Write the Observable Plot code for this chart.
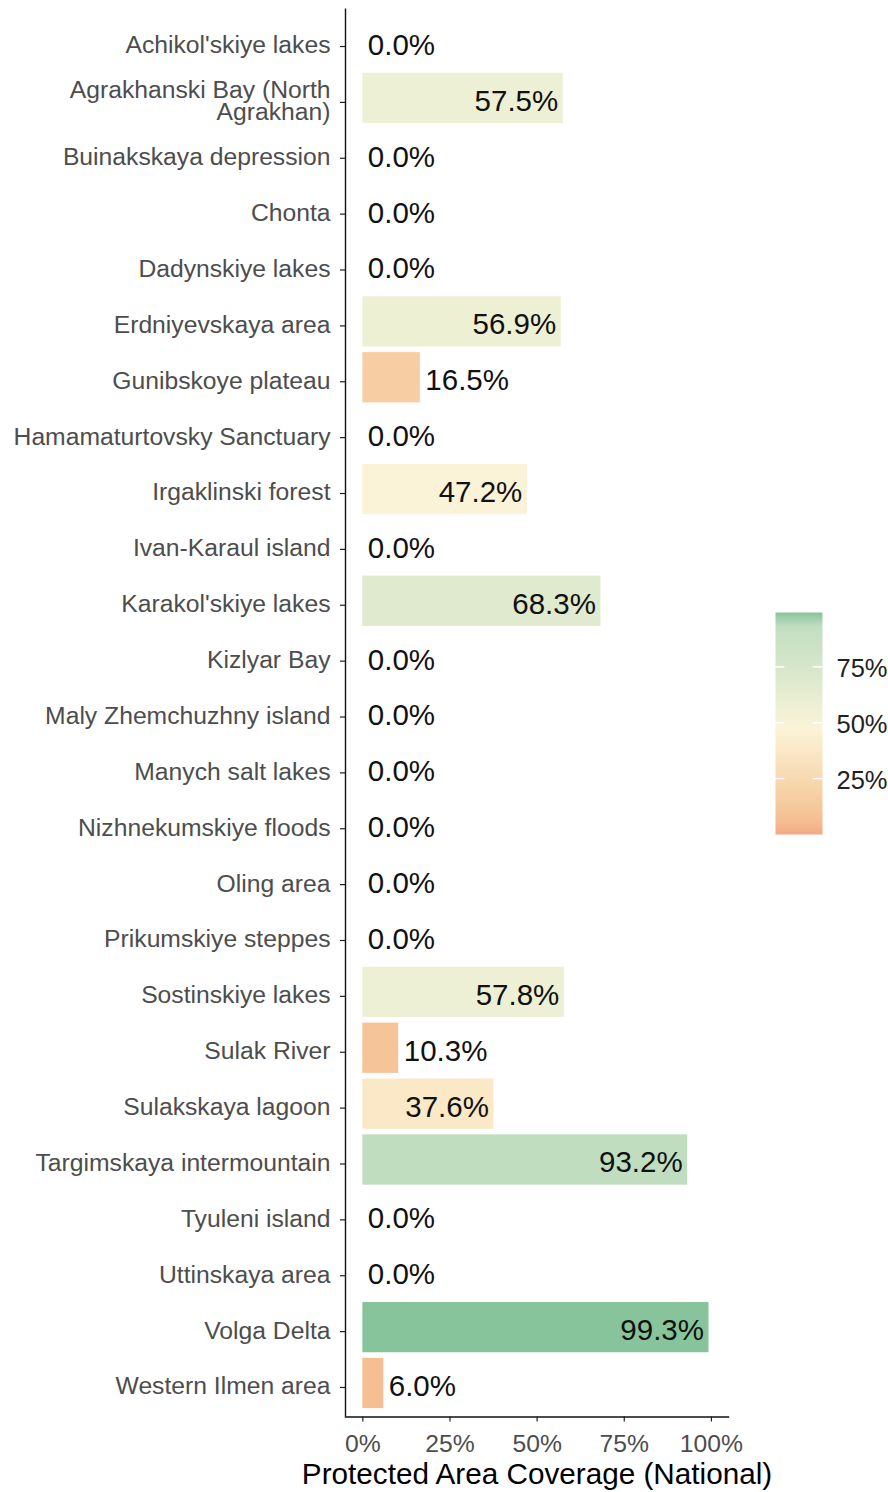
<!DOCTYPE html>
<html><head><meta charset="utf-8">
<script src="https://cdn.jsdelivr.net/npm/d3@7"></script>
<script src="https://cdn.jsdelivr.net/npm/@observablehq/plot@0.6"></script>
<style>
body{margin:0;background:#fff;font-family:"Liberation Sans",Arial,sans-serif}
#wrap{position:relative;width:888px;height:1492px;overflow:hidden}
#chart{position:absolute;left:0;top:0}
#legend{position:absolute;left:770px;top:600px}
</style>
</head><body>
<div id="wrap"><div id="chart"></div><div id="legend"></div></div>
<script>
const sites = [
  "Achikol'skiye lakes",
  "Agrakhanski Bay (North\nAgrakhan)",
  "Buinakskaya depression",
  "Chonta",
  "Dadynskiye lakes",
  "Erdniyevskaya area",
  "Gunibskoye plateau",
  "Hamamaturtovsky Sanctuary",
  "Irgaklinski forest",
  "Ivan-Karaul island",
  "Karakol'skiye lakes",
  "Kizlyar Bay",
  "Maly Zhemchuzhny island",
  "Manych salt lakes",
  "Nizhnekumskiye floods",
  "Oling area",
  "Prikumskiye steppes",
  "Sostinskiye lakes",
  "Sulak River",
  "Sulakskaya lagoon",
  "Targimskaya intermountain",
  "Tyuleni island",
  "Uttinskaya area",
  "Volga Delta",
  "Western Ilmen area"
];
const coverage = [0, 57.5, 0, 0, 0, 56.9, 16.5, 0, 47.2, 0, 68.3, 0, 0, 0, 0, 0, 0, 57.8, 10.3, 37.6, 93.2, 0, 0, 99.3, 6.0];
const xTicks = [0, 25, 50, 75, 100];
const legendTicks = [25, 50, 75];
const colorStops = [0, 6, 20, 47, 57, 68, 93, 99.3];
const colorRange = ["#F4A886", "#F5BE93", "#F7D3A8", "#FBF3D7", "#EEF0D4", "#DFEACE", "#C2DEC0", "#88C49B"];
const xTitle = "Protected Area Coverage (National)";

const data = sites.map((site, i) => ({site, value: coverage[i]}));
const color = {type: "linear", domain: colorStops, range: colorRange, interpolate: "rgb"};
const fmt = d => d.toFixed(1) + "%";
const font = "Liberation Sans, Arial, sans-serif";
const xMin = -4.97, xMax = 104.9;

const chart = Plot.plot({
  width: 888, height: 1492,
  marginLeft: 345, marginRight: 160, marginTop: 8.5, marginBottom: 75.5,
  style: {fontFamily: font, background: "white"},
  x: {domain: [xMin, xMax]},
  y: {domain: sites, paddingInner: 0.1, paddingOuter: 0.15, align: 0.5, round: false},
  color,
  marks: [
    Plot.barX(data, {x1: 0, x2: "value", y: "site", fill: "value"}),
    Plot.text(data.filter(d => d.value >= 30), {x: "value", y: "site", text: d => fmt(d.value), textAnchor: "end", dx: -5, dy: 3, fontSize: 29.5, fill: "#111"}),
    Plot.text(data.filter(d => d.value < 30), {x: "value", y: "site", text: d => fmt(d.value), textAnchor: "start", dx: 5, dy: 3, fontSize: 29.5, fill: "#111"}),
    Plot.ruleX([xMin], {stroke: "#111", strokeWidth: 1.4}),
    Plot.frame({anchor: "bottom", stroke: "#111", strokeWidth: 1.4}),
    Plot.axisY({tickSize: 5, tickPadding: 10, fontSize: 24.7, fill: "#4D4D4D", stroke: "#222", strokeWidth: 1.2, label: null, lineHeight: 0.88, dy: 4}),
    Plot.axisX({ticks: xTicks, tickFormat: d => d + "%", tickSize: 5, tickPadding: 12, fontSize: 24.7, fill: "#4D4D4D", stroke: "#222", strokeWidth: 1.2, label: null}),
    Plot.text([xTitle], {frameAnchor: "bottom", dy: 67, fontSize: 29.7, fill: "#000"})
  ]
});
document.getElementById("chart").appendChild(chart);

const legend = Plot.plot({
  width: 118, height: 250,
  marginTop: 12, marginBottom: 16, marginLeft: 5, marginRight: 66,
  style: {fontFamily: font, background: "transparent", overflow: "visible"},
  x: {domain: [0, 1], axis: null},
  y: {domain: [0, 99.3], axis: null},
  color,
  marks: [
    Plot.raster({x1: 0, x2: 1, y1: 0, y2: 99.3, width: 1, height: 300, fill: (x, y) => y, imageRendering: "auto"}),
    Plot.ruleY(legendTicks, {x1: 0, x2: 0.2, stroke: "white", strokeWidth: 1.5}),
    Plot.ruleY(legendTicks, {x1: 0.8, x2: 1, stroke: "white", strokeWidth: 1.5}),
    Plot.axisY({anchor: "right", ticks: legendTicks, tickFormat: d => d + "%", tickSize: 0, tickPadding: 14, fontSize: 25.5, fill: "#222", label: null, dy: 2})
  ]
});
document.getElementById("legend").appendChild(legend);
</script>
</body></html>
